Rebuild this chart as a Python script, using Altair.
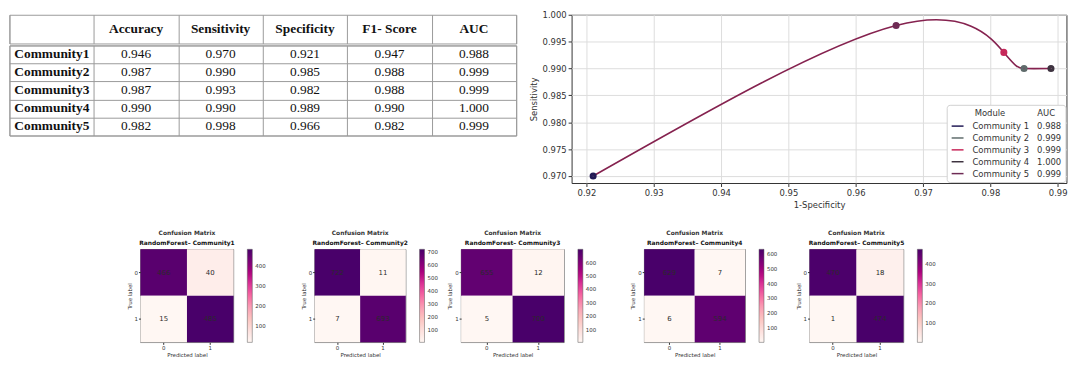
import altair as alt
import pandas as pd

# ---------------- data ----------------
communities = ["Community1", "Community2", "Community3", "Community4", "Community5"]
metric_names = ["Accuracy", "Sensitivity", "Specificity", "F1- Score", "AUC"]
accuracy = [0.946, 0.987, 0.987, 0.990, 0.982]
sensitivity = [0.970, 0.990, 0.993, 0.990, 0.998]
specificity = [0.921, 0.985, 0.982, 0.989, 0.966]
f1_score = [0.947, 0.988, 0.988, 0.990, 0.982]
auc = [0.988, 0.999, 0.999, 1.000, 0.999]

legend_names = ["Community 1", "Community 2", "Community 3", "Community 4", "Community 5"]
series_colors = ["#221a55", "#5f6b6b", "#c8285a", "#3e3340", "#6e2b55"]

x_ticks = [0.92, 0.93, 0.94, 0.95, 0.96, 0.97, 0.98, 0.99]
y_ticks = [0.970, 0.975, 0.980, 0.985, 0.990, 0.995, 1.000]

# confusion matrices (rows: true label 0/1, cols: predicted 0/1)
cm_tn = [466, 722, 655, 629, 470]
cm_fp = [40, 11, 12, 7, 18]
cm_fn = [15, 7, 5, 6, 1]
cm_tp = [485, 693, 700, 594, 474]
cbar_ticks = [
    [100, 200, 300, 400],
    [100, 200, 300, 400, 500, 600, 700],
    [100, 200, 300, 400, 500, 600],
    [100, 200, 300, 400, 500, 600],
    [100, 200, 300, 400],
]

# matplotlib RdPu colour stops
RDPU = ["#fff7f3", "#fde0dd", "#fcc5c0", "#fa9fb5", "#f768a1",
        "#dd3497", "#ae017e", "#7a0177", "#49006a"]

NB = "\u00a0"
ZW = "\u200b"

# ---------------- table ----------------
col_keys = ["label"] + metric_names
col_heads = [""] + metric_names
metrics = [accuracy, sensitivity, specificity, f1_score, auc]

header_df = pd.DataFrame({"col": col_keys, "text": col_heads})
body_rows = []
for i, c in enumerate(communities):
    body_rows.append({"row": c, "col": "label", "text": c, "kind": "label"})
    for j, m in enumerate(metric_names):
        body_rows.append({"row": c, "col": m, "text": f"{metrics[j][i]:.3f}", "kind": "value"})
body_df = pd.DataFrame(body_rows)

TABLE_W = 512
BAND = TABLE_W / len(col_keys)

grid_axis = alt.Axis(grid=True, tickBand="extent", labels=False, ticks=False, domain=False,
                     title=None, gridColor="#9a9a9a", gridWidth=1)
x_tab = alt.X("col:N", scale=alt.Scale(domain=col_keys, paddingInner=0, paddingOuter=0), axis=grid_axis)
table_view = alt.ViewBackground(stroke="#9a9a9a", strokeWidth=1)

header = alt.Chart(header_df).mark_text(
    font="Liberation Serif", fontSize=13.5, fontWeight="bold", color="#111", baseline="middle"
).encode(x=x_tab, text="text:N").properties(width=TABLE_W, height=29, view=table_view)

y_tab = alt.Y("row:N", scale=alt.Scale(domain=communities, paddingInner=0, paddingOuter=0), axis=grid_axis)
body_base = alt.Chart(body_df)
body_vals = body_base.transform_filter(alt.datum.kind == "value").mark_text(
    font="Liberation Serif", fontSize=13.5, color="#111", baseline="middle"
).encode(x=x_tab, y=y_tab, text="text:N")
body_labels = body_base.transform_filter(alt.datum.kind == "label").mark_text(
    font="Liberation Serif", fontSize=13.5, fontWeight="bold", color="#111",
    baseline="middle", align="left", dx=-(BAND / 2) + 5
).encode(x=x_tab, y=y_tab, text="text:N")
body = alt.layer(body_vals, body_labels).properties(width=TABLE_W, height=91, view=table_view)

table = alt.vconcat(header, body, spacing=0)

# ---------------- ROC-like curve ----------------
leg_labels = [f"{n}{NB * 3}{a:.3f}" for n, a in zip(legend_names, auc)]
line_df = pd.DataFrame({"spec": specificity, "sens": sensitivity, "label": leg_labels})

x_enc = alt.X("spec:Q", scale=alt.Scale(domain=[0.9178, 0.9913], nice=False, zero=False),
              axis=alt.Axis(values=x_ticks, format=".2f", title="1-Specificity", labelFontSize=8.5,
                            titleFontSize=8.5, titleFontWeight="normal", labelColor="#333",
                            titleColor="#333", gridColor="#dddddd", tickColor="#333",
                            tickSize=3.5, labelPadding=2, titlePadding=4, domain=False))
y_enc = alt.Y("sens:Q", scale=alt.Scale(domain=[0.9687, 1.0], nice=False, zero=False),
              axis=alt.Axis(values=y_ticks, format=".3f", title="Sensitivity", labelFontSize=8.5,
                            titleFontSize=8.5, titleFontWeight="normal", labelColor="#333",
                            titleColor="#333", gridColor="#dddddd", tickColor="#333",
                            tickSize=3.5, labelPadding=2, titlePadding=4, domain=False))

curve = alt.Chart(line_df).mark_line(interpolate="natural", color="#85224f", strokeWidth=1.6).encode(
    x=x_enc, y=y_enc, order=alt.Order("spec:Q"))

leg_title = ZW + NB * 9 + "Module" + NB * 12 + "AUC"
points = alt.Chart(line_df).mark_point(filled=False, size=10, strokeWidth=4, opacity=1).encode(
    x=x_enc, y=y_enc,
    stroke=alt.Stroke("label:N", scale=alt.Scale(domain=leg_labels, range=series_colors),
                      legend=alt.Legend(title=leg_title, orient="bottom-right", offset=1,
                                        symbolType="stroke", symbolStrokeWidth=1.5, symbolSize=144,
                                        labelFontSize=8.5, titleFontSize=8.5, titleFontWeight="normal",
                                        labelColor="#333", titleColor="#333", fillColor="white",
                                        strokeColor="#d0d0d0", cornerRadius=3, padding=4,
                                        rowPadding=0, labelOffset=8, titlePadding=2)))

roc = alt.layer(curve, points).properties(
    width=500, height=170, view=alt.ViewBackground(stroke="#333", strokeWidth=1))

top_row = alt.hconcat(table, roc, spacing=11).resolve_scale(stroke="independent").resolve_legend(
    stroke="independent")

# ---------------- confusion matrices ----------------
HM_W = [94, 92, 104, 102, 95]
HM_H = 94
HM_GAPS = [34, 8, 33, 17]


def heatmap(i):
    counts = [cm_tn[i], cm_fp[i], cm_fn[i], cm_tp[i]]
    df = pd.DataFrame({"true": [0, 0, 1, 1], "pred": [0, 1, 0, 1], "count": counts})
    lo, hi = min(counts), max(counts)
    stops = [lo + (hi - lo) * k / (len(RDPU) - 1) for k in range(len(RDPU))]
    ax_common = dict(labelAngle=0, labelFontSize=5.5, titleFontSize=5.5, titleFontWeight="normal",
                     tickSize=2, labelPadding=1, titlePadding=2, domain=False,
                     labelColor="#333", titleColor="#333", tickColor="#333")
    base = alt.Chart(df).encode(
        x=alt.X("pred:O", scale=alt.Scale(paddingInner=0, paddingOuter=0),
                axis=alt.Axis(title="Predicted label", **ax_common)),
        y=alt.Y("true:O", scale=alt.Scale(paddingInner=0, paddingOuter=0),
                axis=alt.Axis(title="True label", **ax_common)),
    )
    rect = base.mark_rect().encode(
        color=alt.Color("count:Q", scale=alt.Scale(domain=stops, range=RDPU, interpolate="rgb",
                                                   zero=False, nice=False),
                        legend=alt.Legend(title=None, values=cbar_ticks[i], gradientLength=HM_H,
                                          gradientThickness=5, labelFontSize=5.5, labelColor="#333",
                                          gradientStrokeColor="#555", gradientStrokeWidth=0.5,
                                          offset=14, padding=0, labelOffset=3)))
    text = base.mark_text(fontSize=7, color="#2a2a2a", font="DejaVu Sans").encode(text="count:Q")
    return alt.layer(rect, text).properties(
        width=HM_W[i], height=HM_H,
        view=alt.ViewBackground(stroke="#444", strokeWidth=0.7),
        title=alt.TitleParams(text="Confusion Matrix", subtitle=f"RandomForest\u2013 Community{i + 1}",
                              fontSize=6, fontWeight="bold", color="#333", subtitleFontSize=6,
                              subtitleFontWeight="bold", subtitleColor="#111", anchor="middle",
                              frame="group", offset=3, subtitlePadding=4, font="DejaVu Sans",
                              subtitleFont="DejaVu Sans"))


row = heatmap(0)
for i in range(1, 5):
    row = alt.hconcat(row, heatmap(i), spacing=HM_GAPS[i - 1]).resolve_scale(
        color="independent").resolve_legend(color="independent")
bottom_row = row

chart = alt.vconcat(top_row, bottom_row, spacing=20, center=True).resolve_scale(
    color="independent", stroke="independent").resolve_legend(
    color="independent", stroke="independent").properties(padding=0).configure(font="DejaVu Sans")

chart.save("out.html", embed_options={"renderer": "svg", "actions": False})
